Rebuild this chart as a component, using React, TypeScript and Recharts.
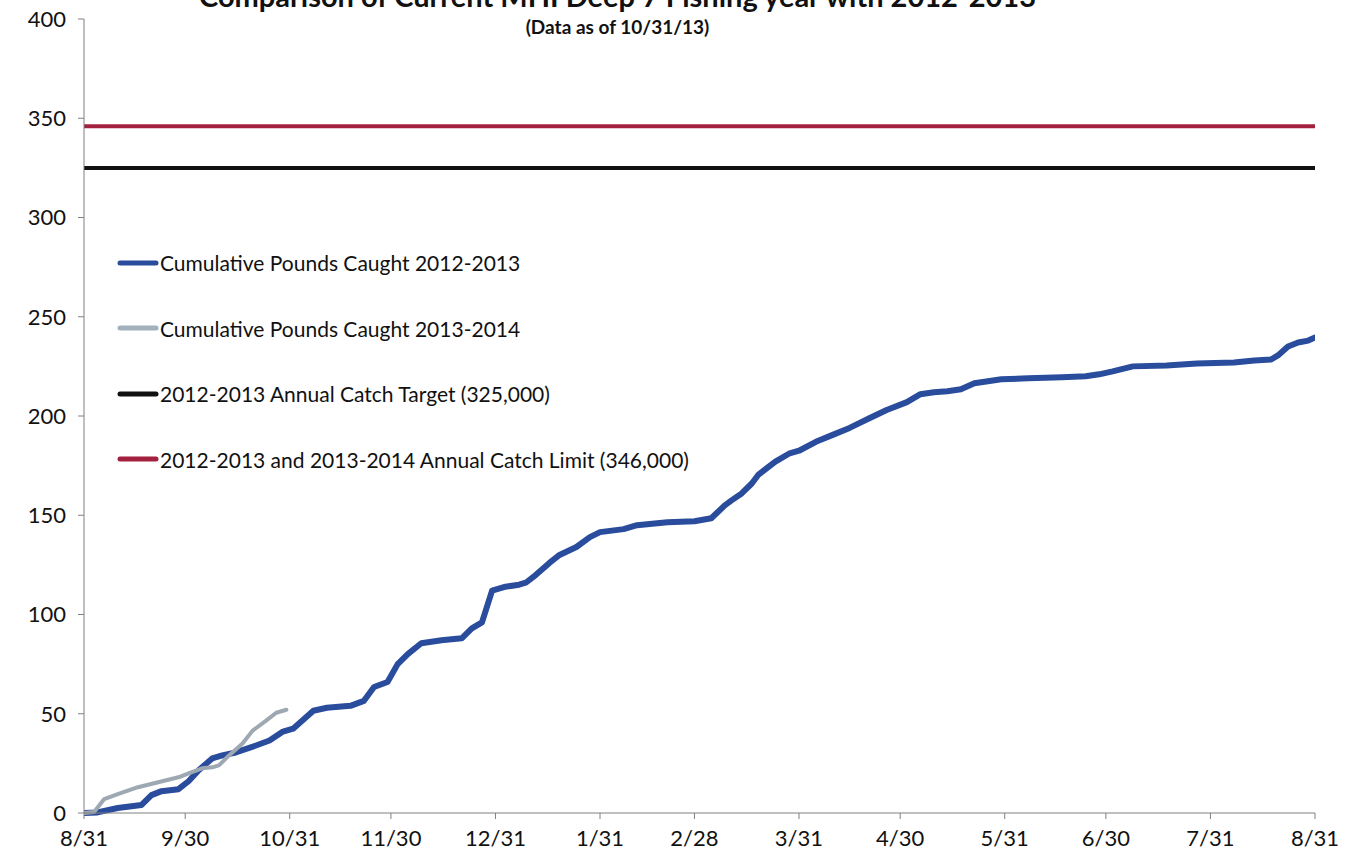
import { LineChart, Line, XAxis, YAxis } from 'recharts';

// days since 8/31/2012, month-end ticks
const tickDays = [0, 30, 61, 91, 122, 153, 181, 212, 242, 273, 303, 334, 365];
const tickLabels = ['8/31', '9/30', '10/31', '11/30', '12/31', '1/31', '2/28', '3/31', '4/30', '5/31', '6/30', '7/31', '8/31'];
const yTicks = [0, 50, 100, 150, 200, 250, 300, 350, 400];

// cumulative pounds caught (thousands)
const days1213 = [0, 4, 10, 17, 20, 23, 28, 31, 34, 38, 41, 45, 51, 55, 59, 62, 65, 68, 72, 79, 83, 86, 90, 93, 96, 100, 106, 112, 115, 118, 121, 125, 129, 131, 134, 138, 141, 146, 150, 153, 160, 164, 173, 181, 186, 190, 192, 195, 198, 200, 205, 209, 212, 217, 222, 227, 233, 238, 244, 248, 252, 256, 260, 264, 268, 272, 280, 290, 297, 301, 305, 311, 321, 330, 341, 347, 352, 354, 357, 360, 363, 365];
const pounds1213 = [0, 0.3, 2.5, 4, 9, 11, 12, 16, 21.5, 27.5, 29, 30.5, 34, 36.5, 41, 42.5, 47, 51.5, 53, 54, 56.5, 63.5, 66, 75, 80, 85.5, 87, 88, 93, 96, 112, 114, 115, 116, 120, 126, 130, 134, 139, 141.5, 143, 145, 146.5, 147, 148.5, 155, 157.5, 161, 166, 170.5, 177, 181, 182.5, 187, 190.5, 194, 199, 203, 207, 211, 212, 212.5, 213.5, 216.5, 217.5, 218.5, 219, 219.5, 220, 221, 222.5, 225, 225.5, 226.5, 227, 228, 228.5, 230.5, 235, 237, 238, 239.5];

const days1314 = [0, 3, 6, 10, 16, 22, 28, 31, 35, 38, 40, 43, 47, 50, 54, 57, 60];
const pounds1314 = [0, 0.5, 7, 9.5, 13, 15.5, 18, 20, 22.5, 23, 24, 29, 35, 41.5, 46.5, 50.5, 52];

const catchTarget = 325;
const catchLimit = 346;

const seriesNames = [
  'Cumulative Pounds Caught 2012-2013',
  'Cumulative Pounds Caught 2013-2014',
  '2012-2013 Annual Catch Target (325,000)',
  '2012-2013 and 2013-2014 Annual Catch Limit (346,000)',
];
const seriesColors = ['#2a4c9c', '#a3b1bf', '#111111', '#a3213f'];

const rows1213 = days1213.map((d, i) => ({ day: d, v: pounds1213[i] }));
const rows1314 = days1314.map((d, i) => ({ day: d, v: pounds1314[i] }));
const targetRows = [{ day: 0, v: catchTarget }, { day: 365, v: catchTarget }];
const limitRows = [{ day: 0, v: catchLimit }, { day: 365, v: catchLimit }];

const FONT = 'Lato, "Liberation Sans", sans-serif';

function LegendBox() {
  return (
    <div style={{ position: 'absolute', left: 117, top: 230, fontFamily: FONT, fontSize: 21, color: '#111' }}>
      {seriesNames.map((name, i) => (
        <div key={name} style={{ display: 'flex', alignItems: 'center', height: 65.5 }}>
          <svg width={42} height={8} style={{ marginRight: 1 }}>
            <line x1={3} y1={4} x2={39} y2={4} stroke={seriesColors[i]} strokeWidth={5} strokeLinecap="round" />
          </svg>
          <span>{name}</span>
        </div>
      ))}
    </div>
  );
}

export default function App() {
  return (
    <div style={{ position: 'absolute', left: 0, top: 0, width: 1365, height: 855, background: '#fff', overflow: 'hidden', fontFamily: FONT }}>
      <LineChart width={1365} height={855} margin={{ top: 19, right: 50, bottom: 0, left: 0 }}>
        <XAxis
          type="number"
          dataKey="day"
          domain={[0, 365]}
          ticks={tickDays}
          tickFormatter={(d: number) => tickLabels[tickDays.indexOf(d)]}
          height={42}
          tickSize={6}
          tickMargin={11}
          stroke="#808080"
          tick={{ fill: '#111', fontSize: 22, fontFamily: FONT }}
          interval={0}
          allowDataOverflow
        />
        <YAxis
          type="number"
          domain={[0, 400]}
          ticks={yTicks}
          width={84}
          tickSize={6}
          tickMargin={12}
          stroke="#808080"
          tick={{ fill: '#111', fontSize: 22, fontFamily: FONT }}
        />
        <Line data={limitRows} dataKey="v" name={seriesNames[3]} stroke={seriesColors[3]} strokeWidth={4} dot={false} isAnimationActive={false} />
        <Line data={targetRows} dataKey="v" name={seriesNames[2]} stroke={seriesColors[2]} strokeWidth={4} dot={false} isAnimationActive={false} />
        <Line data={rows1213} dataKey="v" name={seriesNames[0]} stroke={seriesColors[0]} strokeWidth={6} dot={false} strokeLinejoin="round" strokeLinecap="round" isAnimationActive={false} />
        <Line data={rows1314} dataKey="v" name={seriesNames[1]} stroke="#9ea8b3" strokeWidth={4} dot={false} strokeLinejoin="round" strokeLinecap="round" isAnimationActive={false} />
      </LineChart>
      <LegendBox />
      <div style={{ position: 'absolute', left: 0, width: 1235, top: -22, textAlign: 'center', fontSize: 29, fontWeight: 700, color: '#111', whiteSpace: 'nowrap' }}>
        Comparison of Current MHI Deep 7 Fishing year with 2012-2013
      </div>
      <div style={{ position: 'absolute', left: 0, width: 1235, top: 15, textAlign: 'center', fontSize: 19, fontWeight: 700, color: '#111' }}>
        (Data as of 10/31/13)
      </div>
    </div>
  );
}
